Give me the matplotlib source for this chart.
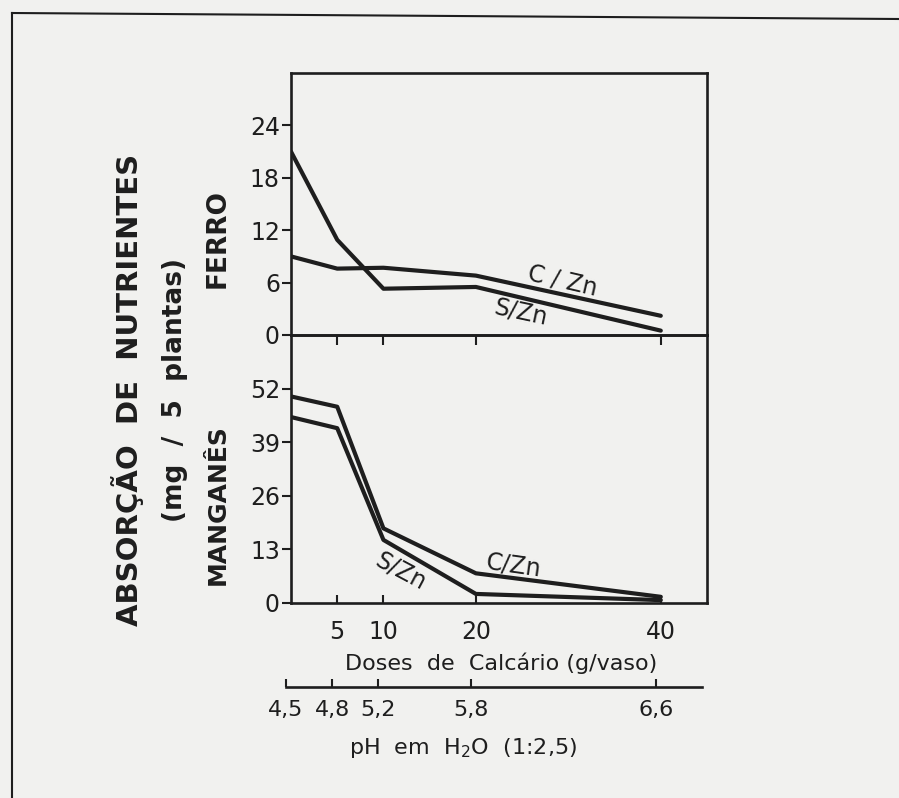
# -*- coding: utf-8 -*-
"""
Absorção de ferro e manganês em função das doses de calcário
"""

import matplotlib
matplotlib.use("Agg")
import matplotlib.pyplot as plt
from matplotlib.lines import Line2D

# Dados

doses = [0, 5, 10, 20, 40]               # g/vaso
ph_rotulos = ["4,5", "4,8", "5,2", "5,8", "6,6"]
doses_ticks = [5, 10, 20, 40]

ferro_czn = [9.0, 7.6, 7.7, 6.8, 2.2]
ferro_szn = [21.0, 10.9, 5.3, 5.5, 0.5]
ferro_ticks = [0, 6, 12, 18, 24]

mang_czn = [50.1, 47.6, 18.1, 7.2, 1.5]
mang_szn = [45.1, 42.4, 15.3, 2.2, 0.7]
mang_ticks = [0, 13, 26, 39, 52]

# Estilo

W, H = 899, 798
FUNDO = "#f1f1ef"
TINTA = "#1e1e1e"
plt.rcParams["font.family"] = ["DejaVu Sans"]
plt.rcParams["text.color"] = TINTA
plt.rcParams["axes.edgecolor"] = TINTA
plt.rcParams["xtick.color"] = TINTA
plt.rcParams["ytick.color"] = TINTA


def px(x, y):
    """converte pixels (origem no topo) em fracção da figura"""
    return x / W, 1 - y / H


def caixa(esq, topo, dir_, base):
    x0, y1 = px(esq, topo)
    x1, y0 = px(dir_, base)
    return [x0, y0, x1 - x0, y1 - y0]


fig = plt.figure(figsize=(W / 100, H / 100), dpi=100, facecolor=FUNDO)

ax_fe = fig.add_axes(caixa(291, 73, 707, 335))
ax_mn = fig.add_axes(caixa(291, 335, 707, 603))

for ax in (ax_fe, ax_mn):
    ax.set_facecolor("none")
    ax.set_xlim(0, 45)
    for s in ax.spines.values():
        s.set_linewidth(1.9)
    ax.tick_params(axis="y", direction="out", length=6.5, width=1.5,
                   labelsize=17, pad=1.5)

# Ferro
ax_fe.plot(doses, ferro_czn, color=TINTA, lw=3.0, solid_capstyle="round")
ax_fe.plot(doses, ferro_szn, color=TINTA, lw=3.0, solid_capstyle="round")
ax_fe.set_ylim(0, 30)
ax_fe.set_yticks(ferro_ticks)
ax_fe.set_xticks(doses_ticks)
ax_fe.tick_params(axis="x", direction="out", length=7, width=1.5,
                  labelbottom=False)
ax_fe.text(29.4, 6.2, "C / Zn", rotation=-13, fontsize=17,
           ha="center", va="center")
ax_fe.text(24.9, 2.6, "S/Zn", rotation=-12, fontsize=17,
           ha="center", va="center")

# Manganês
ax_mn.plot(doses, mang_czn, color=TINTA, lw=3.0, solid_capstyle="round")
ax_mn.plot(doses, mang_szn, color=TINTA, lw=3.0, solid_capstyle="round")
ax_mn.set_ylim(0, 65)
ax_mn.set_yticks(mang_ticks)
ax_mn.set_xticks(doses_ticks)
ax_mn.tick_params(axis="x", direction="in", length=6, width=1.5,
                  labelsize=17, pad=12)
ax_mn.text(24.1, 9.2, "C/Zn", rotation=-8, fontsize=17,
           ha="center", va="center")
ax_mn.text(11.9, 7.8, "S/Zn", rotation=-28, fontsize=17,
           ha="center", va="center")

# Eixo do pH
ax_ph = fig.add_axes(caixa(286, 600, 702, 687))
ax_ph.set_facecolor("none")
ax_ph.set_xlim(0, 45)
ax_ph.set_yticks([])
for lado in ("top", "left", "right"):
    ax_ph.spines[lado].set_visible(False)
ax_ph.spines["bottom"].set_linewidth(1.9)
ax_ph.set_xticks(doses)
ax_ph.set_xticklabels(ph_rotulos)
ax_ph.tick_params(axis="x", direction="in", length=6, width=1.5,
                  labelsize=16, pad=9)

# Rótulos
fig.text(*px(501, 663), "Doses  de  Calcário (g/vaso)", fontsize=16,
         ha="center", va="center")
fig.text(*px(463, 748), r"pH  em  H$_2$O  (1:2,5)", fontsize=16,
         ha="center", va="center")
fig.text(*px(128, 390), "ABSORÇÃO  DE  NUTRIENTES", fontsize=21,
         fontweight="bold", rotation=90, ha="center", va="center")
fig.text(*px(175, 390), "(mg  /  5  plantas)", fontsize=19,
         fontweight="bold", rotation=90, ha="center", va="center")
fig.text(*px(218, 238), "FERRO", fontsize=19, fontweight="bold",
         rotation=90, ha="center", va="center")
fig.text(*px(218, 505), "MANGANÊS", fontsize=18, fontweight="bold",
         rotation=90, ha="center", va="center")

# Moldura da figura
fig.add_artist(Line2D([12 / W, 1], [1 - 13 / H, 1 - 19 / H],
                      color=TINTA, lw=1.5))
fig.add_artist(Line2D([12 / W, 12 / W], [1 - 13 / H, 0],
                      color=TINTA, lw=1.5))

fig.savefig("out.png", dpi=100, facecolor=FUNDO)
